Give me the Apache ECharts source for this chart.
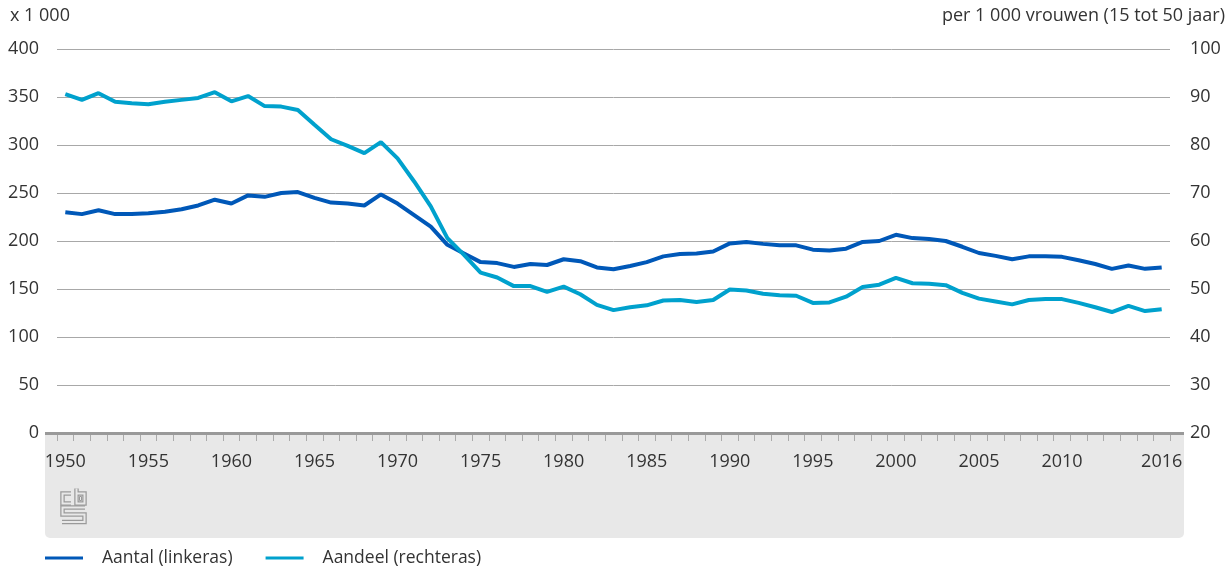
<!DOCTYPE html>
<html>
<head>
<meta charset="utf-8">
<script src="https://cdn.jsdelivr.net/npm/echarts@6/dist/echarts.min.js"></script>
<style>
  html, body { margin: 0; padding: 0; background: #fff; }
  #chart { width: 1230px; height: 572px; }
</style>
</head>
<body>
<div id="chart"></div>
<script>
// Years 1950 - 2016
const years = [];
for (let y = 1950; y <= 2016; y++) years.push(String(y));

// Aantal (x 1 000), left axis
const aantal = [
  230, 228, 232, 228, 228, 229, 230.5, 233, 237, 243,
  239, 247.5, 246, 250, 251, 245, 240, 239, 237, 248.5,
  239, 227, 215, 196, 187, 178, 177, 173, 176, 175,
  181, 179, 172.5, 170.5, 174, 178, 184, 186.5, 187, 189,
  197.5, 199, 197, 195.5, 195.5, 191, 190, 192, 199, 200,
  206.5, 203, 202, 200, 194, 187.5, 184.5, 181, 184, 184,
  183.5, 180, 176, 171, 174.5, 171, 172.5
];

// Aandeel (per 1 000 vrouwen 15-50 jaar), right axis
const aandeel = [
  90.6, 89.4, 90.8, 89.0, 88.7, 88.5, 89.0, 89.4, 89.8, 91.0,
  89.1, 90.2, 88.1, 88.0, 87.3, 84.2, 81.2, 79.8, 78.3, 80.6,
  77.2, 72.4, 67.2, 60.6, 57.1, 53.4, 52.4, 50.6, 50.6, 49.4,
  50.5, 48.9, 46.7, 45.6, 46.2, 46.6, 47.6, 47.7, 47.3, 47.7,
  49.9, 49.7, 49.0, 48.7, 48.6, 47.1, 47.2, 48.4, 50.4, 50.9,
  52.3, 51.2, 51.1, 50.8, 49.2, 48.0, 47.4, 46.8, 47.7, 47.9,
  47.9, 47.1, 46.2, 45.2, 46.5, 45.4, 45.8
];

const leftTicks = { min: 0, max: 400, interval: 50 };
const rightTicks = { min: 20, max: 100, interval: 10 };

const darkBlue = '#0058b8';
const lightBlue = '#00a1cd';
const font = '"Open Sans", "DejaVu Sans", sans-serif';
const textColor = '#333';
const fs = 18;

const chart = echarts.init(document.getElementById('chart'), null, { renderer: 'canvas' });

// cbs logo drawn as double-stroke outline
const logoLines = [
  [[71, 493.5], [62.5, 493.5], [62.5, 503.5], [71, 503.5]],
  [[76.5, 488.5], [76.5, 503.5], [84.5, 503.5], [84.5, 493.5], [76.5, 493.5]],
  [[85, 507.5], [62.5, 507.5], [62.5, 514.5], [84.5, 514.5], [84.5, 522], [62, 522]]
];
const logo = [];
logoLines.forEach(pts => {
  logo.push({ type: 'polyline', z: 1, silent: true, shape: { points: pts }, style: { fill: null, stroke: '#9a9a9a', lineWidth: 4.5 } });
});
logoLines.forEach(pts => {
  logo.push({ type: 'polyline', z: 2, silent: true, shape: { points: pts }, style: { fill: null, stroke: '#e8e8e8', lineWidth: 2 } });
});
logo.push({ type: 'rect', z: 2, silent: true, shape: { x: 79.5, y: 496.5, width: 2, height: 4 }, style: { fill: null, stroke: '#9a9a9a', lineWidth: 1 } });

const option = {
  backgroundColor: '#fff',
  animation: false,
  textStyle: { fontFamily: font },
  grid: { left: 57, right: 60, top: 49, bottom: 139 },
  legend: {
    left: 45,
    top: 549,
    padding: 0,
    icon: 'rect',
    itemWidth: 38,
    itemHeight: 3,
    itemGap: 33,
    textStyle: { fontFamily: font, fontSize: 17.5, color: textColor, padding: [0, 0, 0, 14] },
    data: ['Aantal (linkeras)', 'Aandeel (rechteras)']
  },
  graphic: [
    {
      type: 'rect', z: -10, silent: true,
      shape: { x: 45, y: 433, width: 1139, height: 105, r: [0, 0, 5, 5] },
      style: { fill: '#e8e8e8' }
    },
    {
      type: 'line', z: 50, silent: true,
      shape: { x1: 45, y1: 433.5, x2: 1184, y2: 433.5 },
      style: { stroke: '#999', lineWidth: 3 }
    },
    {
      type: 'text', left: 10, top: 7,
      style: { text: 'x 1 000', fontFamily: font, fontSize: fs, fill: textColor }
    },
    {
      type: 'text', right: 5, top: 7,
      style: { text: 'per 1 000 vrouwen (15 tot 50 jaar)', fontFamily: font, fontSize: fs, fill: textColor }
    }
  ].concat(logo),
  xAxis: {
    type: 'category',
    data: years,
    boundaryGap: true,
    axisLine: { show: false },
    axisTick: { show: true, interval: 0, length: 8, lineStyle: { color: '#aaa', width: 1 } },
    axisLabel: {
      margin: 20,
      fontSize: fs,
      color: textColor,
      fontFamily: font,
      interval: (i, v) => { const y = +v; return (y % 5 === 0 && y !== 2015) || y === 2016; }
    }
  },
  yAxis: [
    {
      type: 'value',
      min: leftTicks.min, max: leftTicks.max, interval: leftTicks.interval,
      axisLine: { show: false },
      axisTick: { show: false },
      axisLabel: { margin: 18, fontSize: fs, color: textColor, fontFamily: font },
      splitLine: { lineStyle: { color: '#a8a8a8', width: 1 } }
    },
    {
      type: 'value',
      min: rightTicks.min, max: rightTicks.max, interval: rightTicks.interval,
      axisLine: { show: false },
      axisTick: { show: false },
      axisLabel: { margin: 20, fontSize: fs, color: textColor, fontFamily: font },
      splitLine: { show: false }
    }
  ],
  series: [
    {
      name: 'Aantal (linkeras)',
      type: 'line',
      yAxisIndex: 0,
      data: aantal,
      showSymbol: false,
      color: darkBlue,
      lineStyle: { color: darkBlue, width: 4 }
    },
    {
      name: 'Aandeel (rechteras)',
      type: 'line',
      yAxisIndex: 1,
      data: aandeel,
      showSymbol: false,
      color: lightBlue,
      lineStyle: { color: lightBlue, width: 4 }
    }
  ]
};

chart.setOption(option);
window.addEventListener('resize', () => chart.resize());
</script>
</body>
</html>
